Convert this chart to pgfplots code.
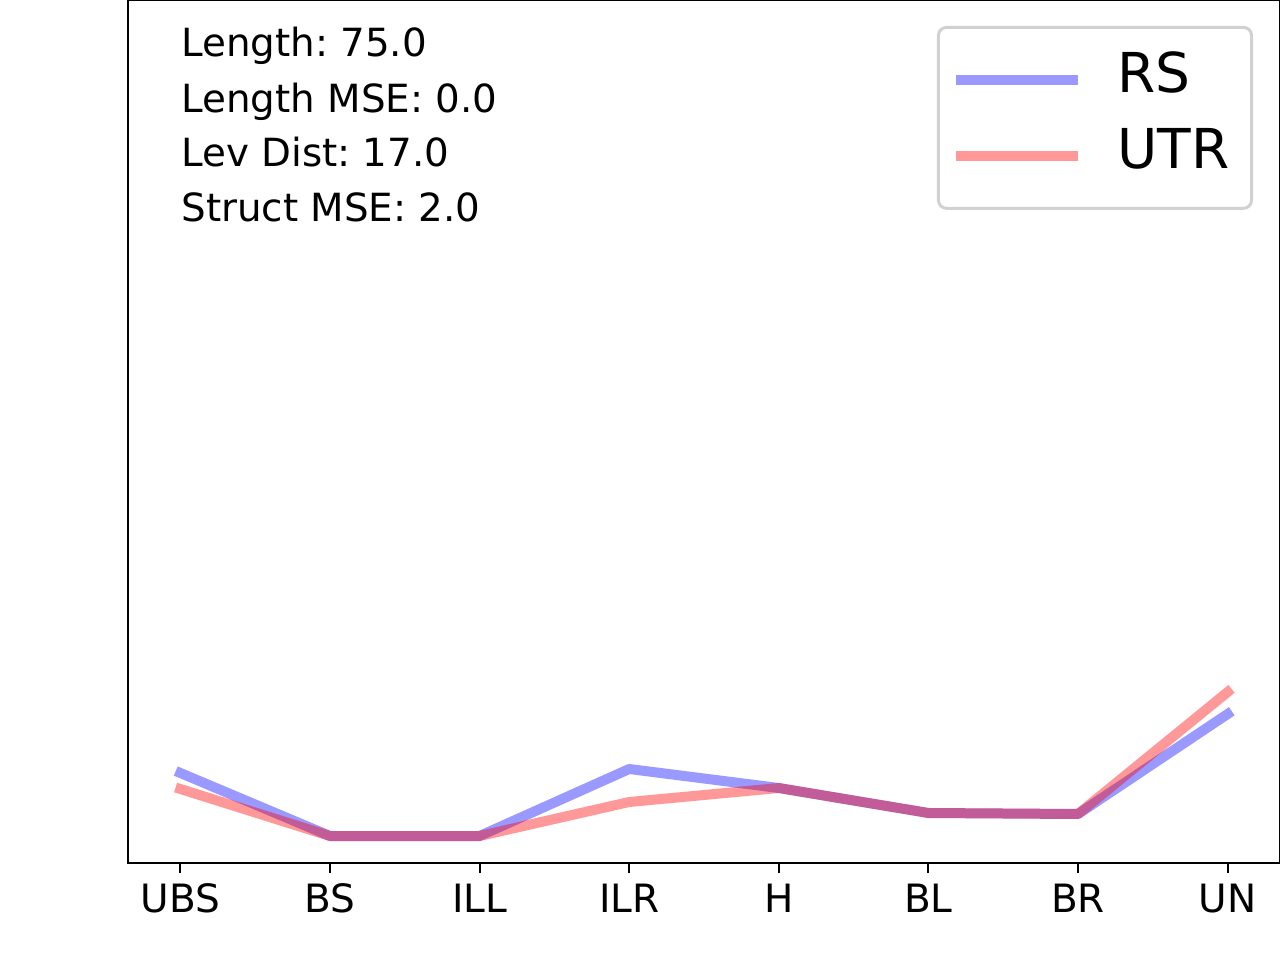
\documentclass[border=0pt]{standalone}
\usepackage{pgfplots}
\pgfplotsset{compat=1.18}
\usepackage{fontspec}
\setmainfont{DejaVu Sans}
\frenchspacing
\begin{document}
\begin{tikzpicture}[x=1pt,y=1pt]
\useasboundingbox (0,0) rectangle (640,480);
\begin{axis}[
  at={(64pt,48.5pt)}, anchor=south west,
  scale only axis, width=576pt, height=431.5pt,
  xmin=-0.35, xmax=7.35, ymin=0, ymax=863,
  xtick={0,1,2,3,4,5,6,7},
  xticklabels={UBS,BS,ILL,ILR,H,BL,BR,UN},
  ytick=\empty,
  xtick pos=left,
  tick align=outside, major tick length=5pt,
  every tick/.style={black, line width=1pt},
  axis line style={line width=1pt},
  ticklabel style={font=\fontsize{19.5}{23}\selectfont},
  xticklabel style={anchor=base, yshift=-19.5pt},
  legend cell align=left,
  legend style={at={(0.9766,0.970)}, anchor=north east, draw=black!18,
    line width=1.5pt, rounded corners=4pt,
    font=\fontsize{27.5}{32}\selectfont,
    inner xsep=9pt, inner ysep=10pt, row sep=6pt,
    nodes={text depth=8pt}},
  legend image code/.code={\draw[#1, line width=5pt, line cap=butt, overlay] (0pt,0pt) -- (61pt,0pt); \path[draw=none, fill=none] (0pt,0pt) rectangle (78.5pt,0.1pt);},
]
\addplot[blue, draw opacity=0.4, line width=5pt, line cap=rect, line join=round]
  coordinates {(0,90) (1,27) (2,27) (3,94) (4,75) (5,50) (6,49) (7,149)};
\addlegendentry{RS}
\addplot[red, draw opacity=0.4, line width=5pt, line cap=rect, line join=round]
  coordinates {(0,74) (1,27) (2,27) (3,61) (4,75) (5,50) (6,49) (7,171)};
\addlegendentry{UTR}
\node[anchor=base west, inner sep=0pt, font=\fontsize{19.4}{23}\selectfont] at (rel axis cs:0.046,0.9340) {Length: 75.0};
\node[anchor=base west, inner sep=0pt, font=\fontsize{19.4}{23}\selectfont] at (rel axis cs:0.046,0.8702) {Length MSE: 0.0};
\node[anchor=base west, inner sep=0pt, font=\fontsize{19.4}{23}\selectfont] at (rel axis cs:0.046,0.8065) {Lev Dist: 17.0};
\node[anchor=base west, inner sep=0pt, font=\fontsize{19.4}{23}\selectfont] at (rel axis cs:0.046,0.7428) {Struct MSE: 2.0};
\end{axis}
\end{tikzpicture}
\end{document}
